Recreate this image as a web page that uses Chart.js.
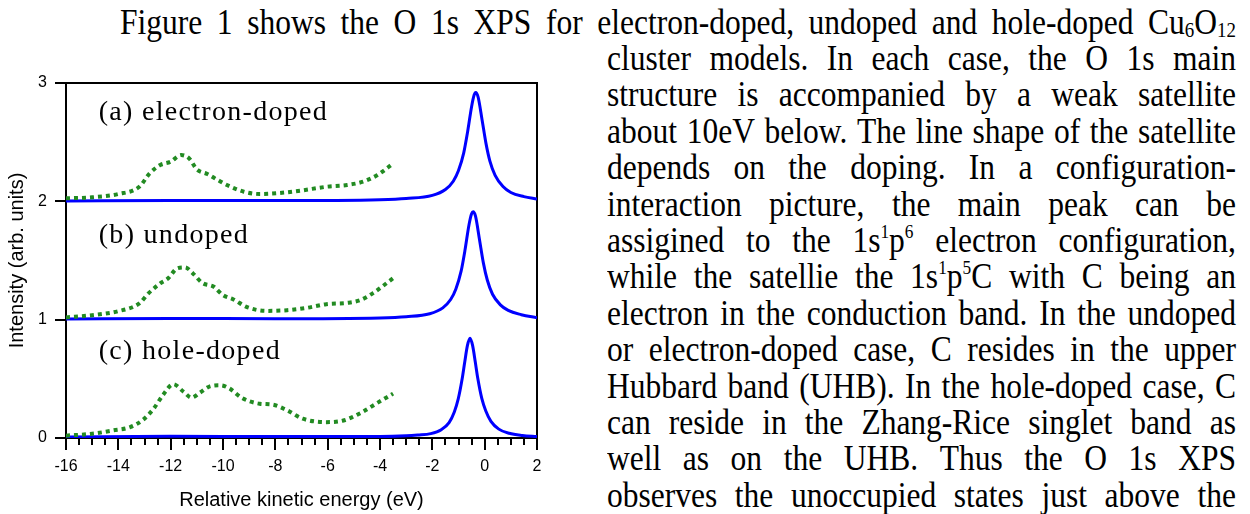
<!DOCTYPE html>
<html>
<head>
<meta charset="utf-8">
<script src="https://cdn.jsdelivr.net/npm/chart.js@4/dist/chart.umd.min.js"></script>
<style>
  html, body { margin: 0; padding: 0; background: #fff; }
  body { width: 1250px; height: 514px; position: relative; overflow: hidden; }
  #chart { position: absolute; left: 0; top: 60px; }
  .ln {
    position: absolute;
    display: flex;
    justify-content: space-between;
    font-family: "Liberation Serif", "Times New Roman", serif;
    font-size: 35px;
    line-height: 36px;
    height: 36px;
    color: #000;
    white-space: nowrap;
    transform: scaleX(0.9);
    transform-origin: 0 0;
  }
  .ln sub { font-size: 0.6em; vertical-align: -0.15em; line-height: 0; }
  .ln sup { font-size: 0.55em; vertical-align: 0.75em; line-height: 0; }
</style>
</head>
<body>
<div id="text"></div>
<canvas id="chart" width="560" height="454"></canvas>
<script>
// paragraph lines (first line runs the full width, the rest sit right of the figure)
const firstLine = "Figure 1 shows the O 1s XPS for electron-doped, undoped and hole-doped Cu<sub>6</sub>O<sub>12</sub>";
const columnLines = [
  "cluster models. In each case, the O 1s main",
  "structure is accompanied by a weak satellite",
  "about 10eV below. The line shape of the satellite",
  "depends on the doping. In a configuration-",
  "interaction picture, the main peak can be",
  "assigined to the 1s<sup>1</sup>p<sup>6</sup> electron configuration,",
  "while the satellie the 1s<sup>1</sup>p<sup>5</sup>C with C being an",
  "electron in the conduction band. In the undoped",
  "or electron-doped case, C resides in the upper",
  "Hubbard band (UHB). In the hole-doped case, C",
  "can reside in the Zhang-Rice singlet band as",
  "well as on the UHB. Thus the O 1s XPS",
  "observes the unoccupied states just above the"
];

// panel labels
const panelLabels = ["(a) electron-doped", "(b) undoped", "(c) hole-doped"];

// main O 1s peak (blue), one curve per doping
const mainAx = [-16, -12, -8, -4, -3, -2, -1.5, -1.2, -1.0, -0.8, -0.65, -0.5, -0.4, -0.34, -0.25, -0.1, 0.05, 0.2, 0.4, 0.7, 1.0, 1.5, 2.0];
const mainAy = [2.003, 2.008, 2.006, 2.014, 2.024, 2.05, 2.1, 2.17, 2.26, 2.41, 2.59, 2.8, 2.9, 2.92, 2.88, 2.69, 2.49, 2.34, 2.22, 2.125, 2.075, 2.04, 2.02];

const mainBx = [-16, -12, -8, -4, -3, -2.1, -1.6, -1.3, -1.1, -0.9, -0.75, -0.6, -0.5, -0.44, -0.35, -0.2, -0.05, 0.1, 0.3, 0.6, 0.9, 1.4, 2.0];
const mainBy = [1.005, 1.01, 1.008, 1.015, 1.025, 1.05, 1.1, 1.17, 1.26, 1.41, 1.59, 1.8, 1.895, 1.912, 1.875, 1.68, 1.48, 1.335, 1.215, 1.125, 1.078, 1.042, 1.016];

const mainCx = [-16, -12, -8, -4, -3, -2.56, -2.06, -1.66, -1.36, -1.16, -1.01, -0.86, -0.76, -0.66, -0.56, -0.46, -0.36, -0.26, -0.11, 0.04, 0.24, 0.54, 0.94, 1.44, 2.0];
const mainCy = [0.008, 0.015, 0.012, 0.012, 0.018, 0.025, 0.037, 0.07, 0.13, 0.22, 0.33, 0.5, 0.644, 0.78, 0.842, 0.78, 0.644, 0.5, 0.334, 0.23, 0.14, 0.075, 0.04, 0.022, 0.012];

// satellite (green dotted)
const satAx = [-16, -15, -14, -13.2, -12.8, -12.4, -12.0, -11.6, -11.3, -11.0, -10.6, -10.2, -9.85, -9.2, -8.6, -7.95, -7.05, -6.05, -5.25, -4.65, -4.1, -3.5];
const satAy = [2.025, 2.034, 2.062, 2.123, 2.237, 2.307, 2.335, 2.391, 2.364, 2.27, 2.231, 2.18, 2.138, 2.081, 2.062, 2.068, 2.09, 2.123, 2.138, 2.166, 2.222, 2.32];

const satBx = [-16, -15, -14, -13.2, -12.85, -12.4, -12.1, -11.75, -11.45, -11.15, -10.8, -10.35, -10.0, -9.6, -9.1, -8.35, -7.55, -6.8, -6.05, -5.25, -4.75, -4.25, -3.5];
const satBy = [1.019, 1.038, 1.072, 1.137, 1.222, 1.307, 1.349, 1.434, 1.442, 1.391, 1.312, 1.278, 1.207, 1.171, 1.108, 1.074, 1.08, 1.1, 1.131, 1.142, 1.165, 1.227, 1.35];

const satCx = [-16, -15, -14.2, -13.55, -13.05, -12.65, -12.3, -11.9, -11.5, -11.2, -10.9, -10.5, -10.1, -9.75, -9.3, -8.6, -8.1, -7.55, -6.95, -6.05, -5.4, -4.75, -4.15, -3.5];
const satCy = [0.02, 0.036, 0.064, 0.092, 0.155, 0.248, 0.361, 0.454, 0.389, 0.341, 0.38, 0.437, 0.446, 0.418, 0.341, 0.29, 0.282, 0.234, 0.163, 0.134, 0.148, 0.21, 0.29, 0.375];

// ---- text ----
function addLine(html, left, top, width) {
  const div = document.createElement("div");
  div.className = "ln";
  div.style.left = left + "px";
  div.style.top = top + "px";
  div.style.width = (width / 0.9) + "px";
  html.split(" ").forEach(w => {
    const s = document.createElement("span");
    s.innerHTML = w;
    div.appendChild(s);
  });
  document.getElementById("text").appendChild(div);
}

addLine(firstLine, 120, 5, 1116);
columnLines.forEach((l, i) => {
  addLine(l, 607, 41 + i * 36.4, 629);
});

// ---- chart ----
const toPts = (xs, ys) => xs.map((x, i) => ({ x: x, y: ys[i] }));

const blue = (xs, ys) => ({
  data: toPts(xs, ys),
  borderColor: "#0000ff",
  borderWidth: 3,
  pointRadius: 0,
  fill: false,
  cubicInterpolationMode: "monotone"
});

const green = (xs, ys) => ({
  data: toPts(xs, ys),
  borderColor: "#228b22",
  borderWidth: 4,
  borderDash: [4, 4],
  borderCapStyle: "butt",
  pointRadius: 0,
  fill: false,
  cubicInterpolationMode: "monotone"
});

const panelLabelPlugin = {
  id: "panelLabels",
  afterDatasetsDraw(chart) {
    const ctx = chart.ctx;
    const xs = chart.scales.x;
    const ys = chart.scales.y;
    const at = [[-14.75, 2.69], [-14.75, 1.645], [-14.75, 0.665]];
    ctx.save();
    ctx.font = '28px "Liberation Serif"';
    ctx.fillStyle = "#000";
    ctx.textBaseline = "alphabetic";
    ctx.textAlign = "left";
    ctx.letterSpacing = "1.3px";
    panelLabels.forEach((t, i) => {
      ctx.fillText(t, xs.getPixelForValue(at[i][0]), ys.getPixelForValue(at[i][1]));
    });
    ctx.restore();
  }
};

const tickFont = { family: "Liberation Sans", size: 16 };
const titleFont = { family: "Liberation Sans", size: 20 };

new Chart(document.getElementById("chart"), {
  type: "line",
  data: {
    datasets: [
      green(satAx, satAy), green(satBx, satBy), green(satCx, satCy),
      blue(mainAx, mainAy), blue(mainBx, mainBy), blue(mainCx, mainCy)
    ]
  },
  options: {
    responsive: false,
    animation: false,
    layout: { padding: { top: 23, right: 23, left: 0, bottom: 0 } },
    plugins: { legend: { display: false }, tooltip: { enabled: false } },
    scales: {
      x: {
        type: "linear", position: "bottom", min: -16, max: 2, weight: 0,
        ticks: { stepSize: 0.5, display: false },
        grid: { drawOnChartArea: false, tickLength: 7, color: "#000", lineWidth: 2 },
        border: { color: "#000", width: 2 },
        afterFit: s => { s.height = 0; }
      },
      xMajor: {
        type: "linear", position: "bottom", min: -16, max: 2, weight: 1,
        ticks: { stepSize: 2, font: tickFont, color: "#000", padding: 7, maxRotation: 0 },
        grid: { drawOnChartArea: false, tickLength: 12, color: "#000", lineWidth: 2 },
        border: { display: false },
        title: { display: true, text: "Relative kinetic energy (eV)", font: titleFont, color: "#000", padding: { top: 0, bottom: 2 } },
        afterFit: s => { s.height = 76; }
      },
      xTop: {
        type: "linear", position: "top", min: -16, max: 2,
        ticks: { display: false },
        grid: { display: false },
        border: { color: "#000", width: 2 },
        afterFit: s => { s.height = 0; }
      },
      y: {
        type: "linear", position: "left", min: 0, max: 3,
        ticks: { stepSize: 1, font: tickFont, color: "#000", padding: 8 },
        grid: { drawOnChartArea: false, tickLength: 11, color: "#000", lineWidth: 2 },
        border: { color: "#000", width: 2 },
        title: { display: true, text: "Intensity (arb. units)", font: titleFont, color: "#000", padding: { top: 5, bottom: 0 } },
        afterFit: s => { s.width = 66; }
      },
      yRight: {
        type: "linear", position: "right", min: 0, max: 3,
        ticks: { display: false },
        grid: { display: false },
        border: { color: "#000", width: 2 },
        afterFit: s => { s.width = 0; }
      }
    }
  },
  plugins: [panelLabelPlugin]
});
</script>
</body>
</html>
